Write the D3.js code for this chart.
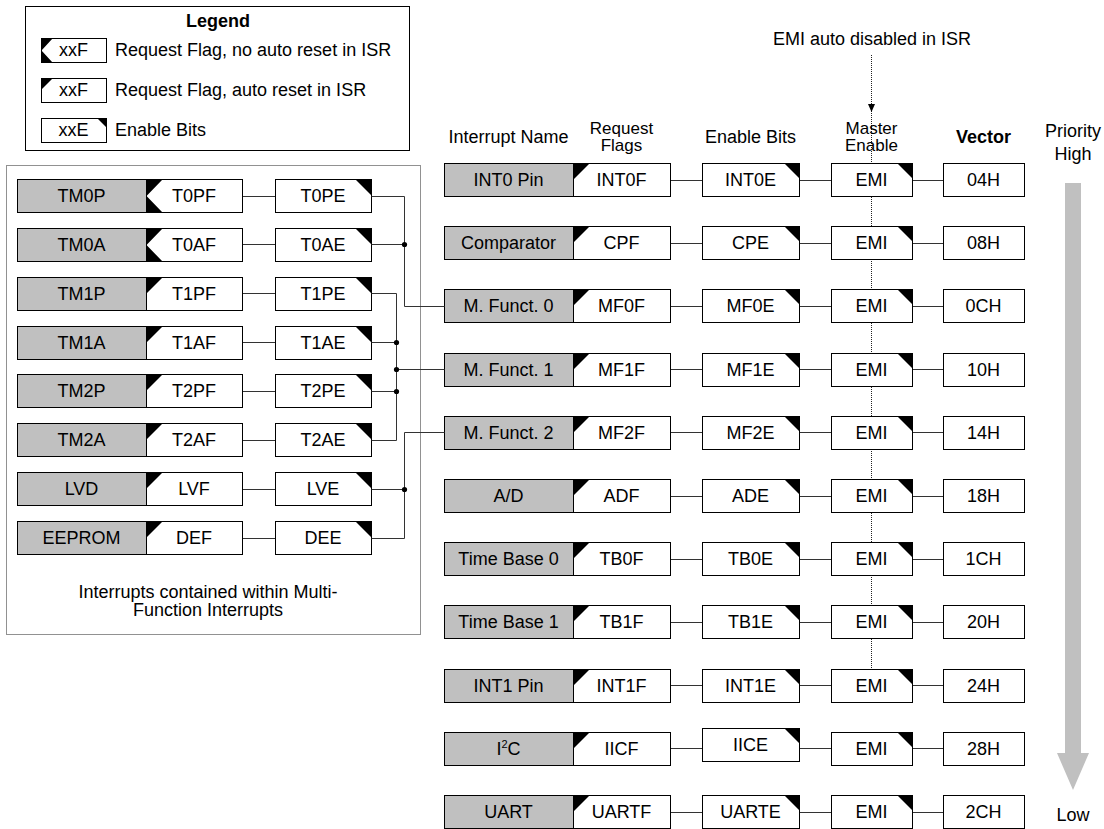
<!DOCTYPE html>
<html>
<head>
<meta charset="utf-8">
<script src="https://cdn.jsdelivr.net/npm/d3@7"></script>
<style>
body { margin: 0; background: #fff; }
text { font-family: "Liberation Sans", Arial, sans-serif; font-size: 18px; fill: #000; }
</style>
</head>
<body>
<script>
var W = 1104, H = 829;

// interrupts contained within the multi-function interrupts
var subNames    = ["TM0P", "TM0A", "TM1P", "TM1A", "TM2P", "TM2A", "LVD", "EEPROM"];
var subFlags    = ["T0PF", "T0AF", "T1PF", "T1AF", "T2PF", "T2AF", "LVF", "DEF"];
var subEnables  = ["T0PE", "T0AE", "T1PE", "T1AE", "T2PE", "T2AE", "LVE", "DEE"];
var subAutoReset = [false, false, true, true, true, true, true, true];
var subTarget   = [0, 0, 1, 1, 1, 1, 2, 2];   // which M. Funct. they feed

// main interrupt column
var intNames   = ["INT0 Pin", "Comparator", "M. Funct. 0", "M. Funct. 1", "M. Funct. 2", "A/D",
                  "Time Base 0", "Time Base 1", "INT1 Pin", "I2C", "UART"];
var intFlags   = ["INT0F", "CPF", "MF0F", "MF1F", "MF2F", "ADF", "TB0F", "TB1F", "INT1F", "IICF", "UARTF"];
var intEnables = ["INT0E", "CPE", "MF0E", "MF1E", "MF2E", "ADE", "TB0E", "TB1E", "INT1E", "IICE", "UARTE"];
var intVectors = ["04H", "08H", "0CH", "10H", "14H", "18H", "1CH", "20H", "24H", "28H", "2CH"];
var mfRows = [2, 3, 4];
var emiLineRows = 8;   // dotted EMI line runs down to the INT1 row

var legendCodes = ["xxF", "xxF", "xxE"];
var legendTexts = ["Request Flag, no auto reset in ISR", "Request Flag, auto reset in ISR", "Enable Bits"];
var legendKinds = ["noreset", "reset", "enable"];

var headers = [
  {col: "name", lines: ["Interrupt Name"]},
  {col: "flag", lines: ["Request", "Flags"]},
  {col: "en",   lines: ["Enable Bits"]},
  {col: "emi",  lines: ["Master", "Enable"]},
  {col: "vec",  lines: ["Vector"], bold: true}
];

var svg = d3.select("body").append("svg")
    .attr("width", W)
    .attr("height", H);

var BH = 33;   // box height
var INK = "#000", WIRE = "#333", GREY = "#c0c0c0";

var yMain = d3.scaleLinear().domain([0, intNames.length - 1]).range([163, 795]);
var ySub  = d3.scaleLinear().domain([0, subNames.length - 1]).range([179, 521]);
var xMain = d3.scaleOrdinal().domain(["name", "flag", "en", "emi", "vec"]).range([444, 573, 702, 831, 943]);
var wMain = d3.scaleOrdinal().domain(["name", "flag", "en", "emi", "vec"]).range([129, 97, 97, 81, 81]);
var xSub  = d3.scaleOrdinal().domain(["name", "flag", "en"]).range([17, 146, 275]);
var wSub  = d3.scaleOrdinal().domain(["name", "flag", "en"]).range([129, 96, 96]);

function px(v) { return Math.round(v) + 0.5; }

function box(g, x, y, w, h, fill, label) {
  g.append("rect")
    .attr("x", px(x)).attr("y", px(y))
    .attr("width", w).attr("height", h)
    .attr("fill", fill).attr("stroke", INK).attr("stroke-width", 1);
  if (label != null) {
    g.append("text")
      .attr("x", x + w / 2).attr("y", y + h / 2)
      .attr("dy", "0.36em")
      .attr("text-anchor", "middle")
      .text(label);
  }
}

function flagMark(g, x, y, h, auto, t) {
  x = px(x); y = px(y);
  var p = auto
    ? "M" + x + "," + y + "L" + (x + t) + "," + y + "L" + x + "," + (y + t) + "Z"
    : "M" + x + "," + y + "L" + (x + t) + "," + y + "L" + x + "," + (y + h / 2) + "Z" +
      "M" + x + "," + (y + h / 2) + "L" + (x + t) + "," + (y + h) + "L" + x + "," + (y + h) + "Z";
  g.append("path").attr("d", p).attr("fill", INK);
}

function enableMark(g, x, y, w, t) {
  var r = px(x) + w, top = px(y);
  g.append("path")
    .attr("d", "M" + (r - t) + "," + top + "L" + r + "," + top + "L" + r + "," + (top + t) + "Z")
    .attr("fill", INK);
}

function wire(g, pts, color) {
  g.append("path")
    .attr("d", d3.line()(pts.map(function(p) { return [px(p[0]), px(p[1])]; })))
    .attr("fill", "none").attr("stroke", color || WIRE).attr("stroke-width", 1);
}

function dot(g, x, y) {
  g.append("circle").attr("cx", px(x)).attr("cy", px(y)).attr("r", 2.6).attr("fill", INK);
}

// ---------- Legend ----------
var lg = svg.append("g");
lg.append("rect").attr("x", 25.5).attr("y", 6.5).attr("width", 384).attr("height", 144)
  .attr("fill", "#fff").attr("stroke", INK);
lg.append("text").attr("x", 218).attr("y", 27).attr("text-anchor", "middle")
  .attr("font-weight", "bold").text("Legend");
legendCodes.forEach(function(c, i) {
  var y = 38 + i * 40;
  box(lg, 41, y, 65, 24, "#fff", c);
  if (legendKinds[i] === "enable") enableMark(lg, 41, y, 65, 9);
  else flagMark(lg, 41, y, 24, legendKinds[i] === "reset", 11);
  lg.append("text").attr("x", 115).attr("y", y + 12).attr("dy", "0.36em").text(legendTexts[i]);
});

// ---------- EMI dotted line (behind the boxes) ----------
var emiX = 871;
svg.append("line")
  .attr("x1", emiX + 0.5).attr("x2", emiX + 0.5)
  .attr("y1", 55).attr("y2", yMain(emiLineRows))
  .attr("stroke", "#222").attr("stroke-dasharray", "1,1");
svg.append("path")
  .attr("d", "M" + (emiX - 3) + ",104L" + (emiX + 4) + ",104L" + (emiX + 0.5) + ",112Z")
  .attr("fill", INK);
svg.append("text").attr("x", emiX + 1).attr("y", 45).attr("text-anchor", "middle")
  .text("EMI auto disabled in ISR");

// ---------- Headers ----------
headers.forEach(function(hd) {
  var cx = xMain(hd.col) + wMain(hd.col) / 2;
  var t = svg.append("text").attr("text-anchor", "middle")
    .attr("font-weight", hd.bold ? "bold" : null);
  if (hd.lines.length === 1) {
    t.attr("x", cx).attr("y", 143).text(hd.lines[0]);
  } else {
    t.style("font-size", "17px");
    hd.lines.forEach(function(l, k) {
      t.append("tspan").attr("x", cx).attr("y", 134 + k * 17).text(l);
    });
  }
});
var prio = svg.append("text").attr("text-anchor", "middle");
prio.append("tspan").attr("x", 1073).attr("y", 137).text("Priority");
prio.append("tspan").attr("x", 1073).attr("y", 160).text("High");
svg.append("text").attr("x", 1073).attr("y", 821).attr("text-anchor", "middle").text("Low");

// priority arrow
var ax = 1073;
svg.append("path")
  .attr("d", "M" + (ax - 8) + ",183L" + (ax + 8) + ",183L" + (ax + 8) + ",753L" + (ax + 16) + ",753L" +
             ax + ",790L" + (ax - 16) + ",753L" + (ax - 8) + ",753Z")
  .attr("fill", GREY);

// ---------- Main column ----------
var mg = svg.append("g");
intNames.forEach(function(n, i) {
  var y = yMain(i), cy = y + BH / 2;
  var enShift = intEnables[i] === "IICE" ? -4 : 0;

  wire(mg, [[xMain("flag") + wMain("flag"), cy], [xMain("en"), cy]]);
  wire(mg, [[xMain("en") + wMain("en"), cy], [xMain("emi"), cy]]);
  wire(mg, [[xMain("emi") + wMain("emi"), cy], [xMain("vec"), cy]]);

  if (n === "I2C") {
    box(mg, xMain("name"), y, wMain("name"), BH, GREY, null);
    var t = mg.append("text").attr("x", xMain("name") + wMain("name") / 2).attr("y", cy)
      .attr("dy", "0.36em").attr("text-anchor", "middle");
    t.append("tspan").text("I");
    t.append("tspan").attr("font-size", "11px").attr("dy", "-7").text("2");
    t.append("tspan").attr("dy", "7").text("C");
  } else {
    box(mg, xMain("name"), y, wMain("name"), BH, GREY, n);
  }
  box(mg, xMain("flag"), y, wMain("flag"), BH, "#fff", intFlags[i]);
  flagMark(mg, xMain("flag"), y, BH, true, 16);
  box(mg, xMain("en"), y + enShift, wMain("en"), BH, "#fff", intEnables[i]);
  enableMark(mg, xMain("en"), y + enShift, wMain("en"), 15);
  box(mg, xMain("emi"), y, wMain("emi"), BH, "#fff", "EMI");
  enableMark(mg, xMain("emi"), y, wMain("emi"), 15);
  box(mg, xMain("vec"), y, wMain("vec"), BH, "#fff", intVectors[i]);
});

// ---------- Multi-function block ----------
var sg = svg.append("g");
sg.append("rect").attr("x", 6.5).attr("y", 165.5).attr("width", 414).attr("height", 469)
  .attr("fill", "none").attr("stroke", "#222").attr("stroke-dasharray", "1,1");

subNames.forEach(function(n, i) {
  var y = ySub(i), cy = y + BH / 2;
  wire(sg, [[xSub("flag") + wSub("flag"), cy], [xSub("en"), cy]]);
  box(sg, xSub("name"), y, wSub("name"), BH, GREY, n);
  box(sg, xSub("flag"), y, wSub("flag"), BH, "#fff", subFlags[i]);
  flagMark(sg, xSub("flag"), y, BH, subAutoReset[i], 16);
  box(sg, xSub("en"), y, wSub("en"), BH, "#fff", subEnables[i]);
  enableMark(sg, xSub("en"), y, wSub("en"), 16);
});

// buses into the M. Funct. rows
var busX = [404, 396, 404];
mfRows.forEach(function(r, g) {
  var ty = yMain(r) + BH / 2;
  var ys = [];
  subTarget.forEach(function(t, i) { if (t === g) ys.push(ySub(i) + BH / 2); });
  var all = ys.concat([ty]);
  var lo = d3.min(all), hi = d3.max(all);
  wire(sg, [[busX[g], lo], [busX[g], hi]]);
  ys.forEach(function(y) {
    wire(sg, [[xSub("en") + wSub("en"), y], [busX[g], y]]);
    if (y > lo && y < hi) dot(sg, busX[g], y);
  });
  wire(sg, [[busX[g], ty], [xMain("name"), ty]]);
  if (ty > lo && ty < hi) dot(sg, busX[g], ty);
});

var cap = sg.append("text").attr("text-anchor", "middle");
cap.append("tspan").attr("x", 208).attr("y", 598).text("Interrupts contained within Multi-");
cap.append("tspan").attr("x", 208).attr("y", 616).text("Function Interrupts");
</script>
</body>
</html>
